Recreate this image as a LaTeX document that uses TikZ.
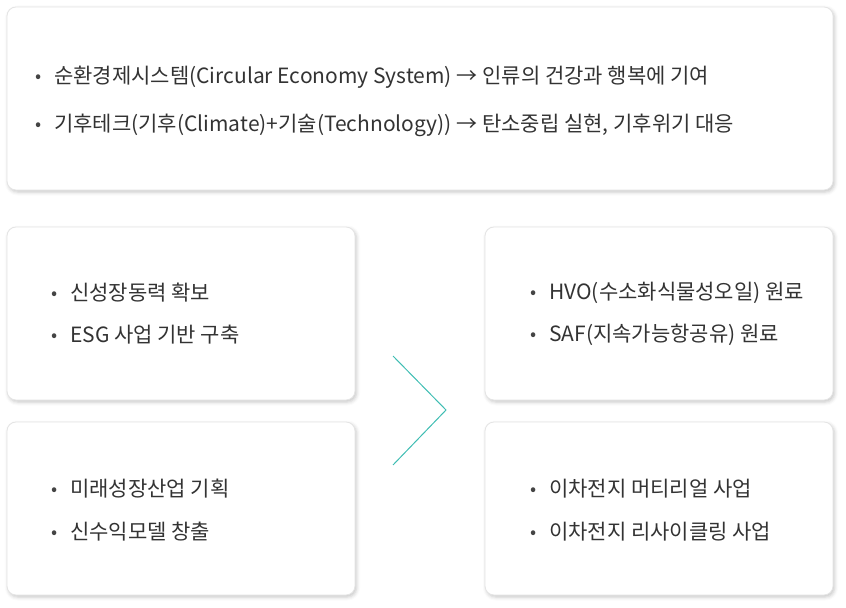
\documentclass[tikz,border=0pt]{standalone}
\usepackage{fontspec}
\setmainfont{Noto Sans CJK KR}
\usepackage{xcolor}
\usepackage{tikz}
\usetikzlibrary{positioning,shadows.blur}
\definecolor{cardline}{HTML}{E4E4E4}
\definecolor{textgray}{HTML}{333333}
\definecolor{bulgray}{HTML}{444444}
\definecolor{chevteal}{HTML}{3FBDB3}
\newcommand{\bul}{\makebox[19bp][l]{\color{bulgray}\raisebox{0.05em}{\fontsize{18bp}{20bp}\selectfont •}}}

\begin{document}
\begin{tikzpicture}[x=1bp,y=-1bp,
	card/.style = {rectangle, draw=cardline, fill=white, rounded corners=9bp, line width=0.8bp,
		blur shadow={shadow xshift=1.5bp, shadow yshift=-2bp, shadow blur radius=3.5bp, shadow opacity=22}},
	item/.style = {anchor=west, inner sep=0pt, text=textgray, font=\fontsize{21bp}{25bp}\selectfont},
	chev/.style = {draw=chevteal, line width=1bp}]
	\useasboundingbox (0,0) rectangle (846,608);
	\node[card, minimum width=826bp, minimum height=183bp] (top) at (420,98.5) {};
	\node[card, minimum width=348bp, minimum height=173bp] (lt) at (181,313.5) {};
	\node[card, minimum width=348bp, minimum height=173bp] (lb) at (181,508.5) {};
	\node[card, minimum width=348bp, minimum height=173bp] (rt) at (659,313.5) {};
	\node[card, minimum width=348bp, minimum height=173bp] (rb) at (659,508.5) {};
	
	\node[item] (t1) at (35,77) {\bul 순환경제시스템(Circular Economy System) → 인류의 건강과 행복에 기여};
	\node[item] (t2) at (35,125) {\bul 기후테크(기후(Climate)+기술(Technology)) → 탄소중립 실현, 기후위기 대응};
	
	\node[item] (l1) at (51,293) {\bul 신성장동력 확보};
	\node[item] (l2) at (51,335) {\bul ESG 사업 기반 구축};
	\node[item] (l3) at (51,489) {\bul 미래성장산업 기획};
	\node[item] (l4) at (51,532) {\bul 신수익모델 창출};
	
	\node[item] (r1) at (530,293) {\bul HVO(수소화식물성오일) 원료};
	\node[item] (r2) at (530,335) {\bul SAF(지속가능항공유) 원료};
	\node[item] (r3) at (530,489) {\bul 이차전지 머티리얼 사업};
	\node[item] (r4) at (530,532) {\bul 이차전지 리사이클링 사업};
	
	\coordinate (c1) at (393,356);
	\coordinate (c2) at (446,410);
	\coordinate (c3) at (393,465);
	\draw[chev] (c1) -- (c2) -- (c3);
\end{tikzpicture}
\end{document}
